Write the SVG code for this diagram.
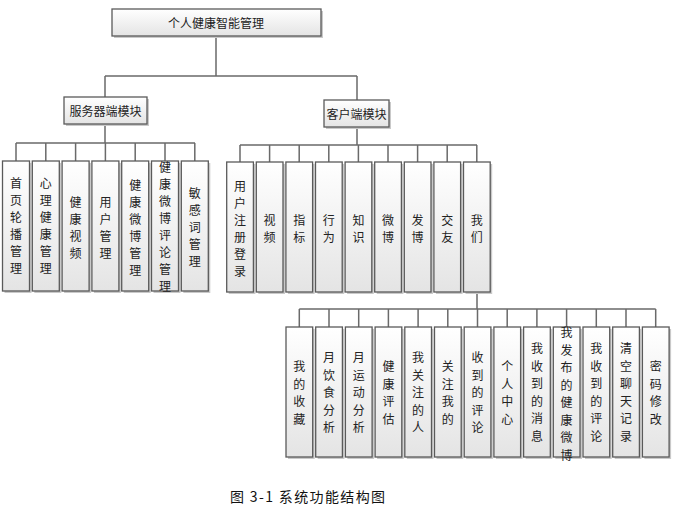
<svg xmlns="http://www.w3.org/2000/svg" width="677" height="513" viewBox="0 0 677 513">
<style>
.box{fill:url(#g);stroke:#5a5a5a;stroke-width:1.3}
.sh{fill:#c9c9c9}
.ln{fill:none;stroke:#6a6a6a;stroke-width:1.5}
.t{font-family:"Noto Sans CJK SC","Noto Sans CJK TC",sans-serif;font-size:12px;fill:#222;text-anchor:middle;dominant-baseline:central}
.cap{font-family:"Noto Sans CJK SC",sans-serif;font-size:14px;fill:#111}
</style>
<defs>
<linearGradient id="g" x1="0" y1="0" x2="0" y2="1">
<stop offset="0" stop-color="#ffffff"/>
<stop offset="1" stop-color="#e4e4e4"/>
</linearGradient>
</defs>
<rect width="677" height="513" fill="#fff"/>

<g id="connectors">
<path class="ln" d="M216 36V76M105 76H357M105 76V97M357 76V100"/>
<path class="ln" d="M105 124V143M16 143H195M16 143V161M45.8 143V161M75.6 143V161M105.4 143V161M135.2 143V161M165 143V161M194.8 143V161"/>
<path class="ln" d="M357 127V145M240 145H477M240 145V162M269.6 145V162M299.2 145V162M328.8 145V162M358.4 145V162M388 145V162M417.6 145V162M447.2 145V162M476.8 145V162"/>
<path class="ln" d="M477 292V309M299.3 309H655.7M299.3 309V327M329 309V327M358.7 309V327M388.4 309V327M418.1 309V327M447.8 309V327M477.5 309V327M507.2 309V327M536.9 309V327M566.6 309V327M596.3 309V327M626 309V327M655.7 309V327"/>
</g>

<g id="root"><rect class="sh" x="114" y="11" width="209" height="27"/><rect class="box" x="112" y="9" width="209" height="27"/><text class="t" x="216" y="22.5">个人健康智能管理</text></g>
<g id="server"><rect class="sh" x="66" y="99" width="83" height="27"/><rect class="box" x="64" y="97" width="83" height="27"/><text class="t" x="105.5" y="110.5">服务器端模块</text></g>
<g id="client"><rect class="sh" x="326" y="102" width="65" height="27"/><rect class="box" x="324" y="100" width="65" height="27"/><text class="t" x="356.5" y="113.5">客户端模块</text></g>

<!-- server children -->
<g id="s1"><rect class="sh" x="4.5" y="163" width="27" height="130"/><rect class="box" x="2.5" y="161" width="27" height="130"/><text class="t" x="16" y="182"><tspan x="16">首</tspan><tspan x="16" dy="17">页</tspan><tspan x="16" dy="17">轮</tspan><tspan x="16" dy="17">播</tspan><tspan x="16" dy="17">管</tspan><tspan x="16" dy="17">理</tspan></text></g>
<g id="s2"><rect class="sh" x="34.3" y="163" width="27" height="130"/><rect class="box" x="32.3" y="161" width="27" height="130"/><text class="t" x="45.8" y="182"><tspan x="45.8">心</tspan><tspan x="45.8" dy="17">理</tspan><tspan x="45.8" dy="17">健</tspan><tspan x="45.8" dy="17">康</tspan><tspan x="45.8" dy="17">管</tspan><tspan x="45.8" dy="17">理</tspan></text></g>
<g id="s3"><rect class="sh" x="64.1" y="163" width="27" height="130"/><rect class="box" x="62.1" y="161" width="27" height="130"/><text class="t" x="75.6" y="200.5"><tspan x="75.6">健</tspan><tspan x="75.6" dy="17">康</tspan><tspan x="75.6" dy="17">视</tspan><tspan x="75.6" dy="17">频</tspan></text></g>
<g id="s4"><rect class="sh" x="93.9" y="163" width="27" height="130"/><rect class="box" x="91.9" y="161" width="27" height="130"/><text class="t" x="105.4" y="200.5"><tspan x="105.4">用</tspan><tspan x="105.4" dy="17">户</tspan><tspan x="105.4" dy="17">管</tspan><tspan x="105.4" dy="17">理</tspan></text></g>
<g id="s5"><rect class="sh" x="123.7" y="163" width="27" height="130"/><rect class="box" x="121.7" y="161" width="27" height="130"/><text class="t" x="135.2" y="183.5"><tspan x="135.2">健</tspan><tspan x="135.2" dy="17">康</tspan><tspan x="135.2" dy="17">微</tspan><tspan x="135.2" dy="17">博</tspan><tspan x="135.2" dy="17">管</tspan><tspan x="135.2" dy="17">理</tspan></text></g>
<g id="s6"><rect class="sh" x="153.5" y="163" width="27" height="130"/><rect class="box" x="151.5" y="161" width="27" height="130"/><text class="t" x="165" y="166"><tspan x="165">健</tspan><tspan x="165" dy="17">康</tspan><tspan x="165" dy="17">微</tspan><tspan x="165" dy="17">博</tspan><tspan x="165" dy="17">评</tspan><tspan x="165" dy="17">论</tspan><tspan x="165" dy="17">管</tspan><tspan x="165" dy="17">理</tspan></text></g>
<g id="s7"><rect class="sh" x="183.3" y="163" width="27" height="130"/><rect class="box" x="181.3" y="161" width="27" height="130"/><text class="t" x="194.8" y="192"><tspan x="194.8">敏</tspan><tspan x="194.8" dy="17">感</tspan><tspan x="194.8" dy="17">词</tspan><tspan x="194.8" dy="17">管</tspan><tspan x="194.8" dy="17">理</tspan></text></g>

<!-- client children -->
<g id="c1"><rect class="sh" x="228.7" y="164" width="26.7" height="130"/><rect class="box" x="226.7" y="162" width="26.7" height="130"/><text class="t" x="240" y="184.5"><tspan x="240">用</tspan><tspan x="240" dy="17">户</tspan><tspan x="240" dy="17">注</tspan><tspan x="240" dy="17">册</tspan><tspan x="240" dy="17">登</tspan><tspan x="240" dy="17">录</tspan></text></g>
<g id="c2"><rect class="sh" x="258.3" y="164" width="26.7" height="130"/><rect class="box" x="256.3" y="162" width="26.7" height="130"/><text class="t" x="269.6" y="218.5"><tspan x="269.6">视</tspan><tspan x="269.6" dy="17">频</tspan></text></g>
<g id="c3"><rect class="sh" x="287.9" y="164" width="26.7" height="130"/><rect class="box" x="285.9" y="162" width="26.7" height="130"/><text class="t" x="299.2" y="218.5"><tspan x="299.2">指</tspan><tspan x="299.2" dy="17">标</tspan></text></g>
<g id="c4"><rect class="sh" x="317.5" y="164" width="26.7" height="130"/><rect class="box" x="315.5" y="162" width="26.7" height="130"/><text class="t" x="328.8" y="218.5"><tspan x="328.8">行</tspan><tspan x="328.8" dy="17">为</tspan></text></g>
<g id="c5"><rect class="sh" x="347.1" y="164" width="26.7" height="130"/><rect class="box" x="345.1" y="162" width="26.7" height="130"/><text class="t" x="358.4" y="218.5"><tspan x="358.4">知</tspan><tspan x="358.4" dy="17">识</tspan></text></g>
<g id="c6"><rect class="sh" x="376.7" y="164" width="26.7" height="130"/><rect class="box" x="374.7" y="162" width="26.7" height="130"/><text class="t" x="388" y="218.5"><tspan x="388">微</tspan><tspan x="388" dy="17">博</tspan></text></g>
<g id="c7"><rect class="sh" x="406.3" y="164" width="26.7" height="130"/><rect class="box" x="404.3" y="162" width="26.7" height="130"/><text class="t" x="417.6" y="218.5"><tspan x="417.6">发</tspan><tspan x="417.6" dy="17">博</tspan></text></g>
<g id="c8"><rect class="sh" x="435.9" y="164" width="26.7" height="130"/><rect class="box" x="433.9" y="162" width="26.7" height="130"/><text class="t" x="447.2" y="218.5"><tspan x="447.2">交</tspan><tspan x="447.2" dy="17">友</tspan></text></g>
<g id="c9"><rect class="sh" x="465.5" y="164" width="26.7" height="130"/><rect class="box" x="463.5" y="162" width="26.7" height="130"/><text class="t" x="476.8" y="218.5"><tspan x="476.8">我</tspan><tspan x="476.8" dy="17">们</tspan></text></g>

<!-- 我们 children -->
<g id="w1"><rect class="sh" x="288" y="329" width="26.7" height="130"/><rect class="box" x="286" y="327" width="26.7" height="130"/><text class="t" x="299.3" y="365"><tspan x="299.3">我</tspan><tspan x="299.3" dy="17.5">的</tspan><tspan x="299.3" dy="17.5">收</tspan><tspan x="299.3" dy="17.5">藏</tspan></text></g>
<g id="w2"><rect class="sh" x="317.7" y="329" width="26.7" height="130"/><rect class="box" x="315.7" y="327" width="26.7" height="130"/><text class="t" x="329" y="356"><tspan x="329">月</tspan><tspan x="329" dy="17.5">饮</tspan><tspan x="329" dy="17.5">食</tspan><tspan x="329" dy="17.5">分</tspan><tspan x="329" dy="17.5">析</tspan></text></g>
<g id="w3"><rect class="sh" x="347.4" y="329" width="26.7" height="130"/><rect class="box" x="345.4" y="327" width="26.7" height="130"/><text class="t" x="358.7" y="356"><tspan x="358.7">月</tspan><tspan x="358.7" dy="17.5">运</tspan><tspan x="358.7" dy="17.5">动</tspan><tspan x="358.7" dy="17.5">分</tspan><tspan x="358.7" dy="17.5">析</tspan></text></g>
<g id="w4"><rect class="sh" x="377.1" y="329" width="26.7" height="130"/><rect class="box" x="375.1" y="327" width="26.7" height="130"/><text class="t" x="388.4" y="365"><tspan x="388.4">健</tspan><tspan x="388.4" dy="17.5">康</tspan><tspan x="388.4" dy="17.5">评</tspan><tspan x="388.4" dy="17.5">估</tspan></text></g>
<g id="w5"><rect class="sh" x="406.8" y="329" width="26.7" height="130"/><rect class="box" x="404.8" y="327" width="26.7" height="130"/><text class="t" x="418.1" y="356"><tspan x="418.1">我</tspan><tspan x="418.1" dy="17.5">关</tspan><tspan x="418.1" dy="17.5">注</tspan><tspan x="418.1" dy="17.5">的</tspan><tspan x="418.1" dy="17.5">人</tspan></text></g>
<g id="w6"><rect class="sh" x="436.5" y="329" width="26.7" height="130"/><rect class="box" x="434.5" y="327" width="26.7" height="130"/><text class="t" x="447.8" y="365"><tspan x="447.8">关</tspan><tspan x="447.8" dy="17.5">注</tspan><tspan x="447.8" dy="17.5">我</tspan><tspan x="447.8" dy="17.5">的</tspan></text></g>
<g id="w7"><rect class="sh" x="466.2" y="329" width="26.7" height="130"/><rect class="box" x="464.2" y="327" width="26.7" height="130"/><text class="t" x="477.5" y="356"><tspan x="477.5">收</tspan><tspan x="477.5" dy="17.5">到</tspan><tspan x="477.5" dy="17.5">的</tspan><tspan x="477.5" dy="17.5">评</tspan><tspan x="477.5" dy="17.5">论</tspan></text></g>
<g id="w8"><rect class="sh" x="495.9" y="329" width="26.7" height="130"/><rect class="box" x="493.9" y="327" width="26.7" height="130"/><text class="t" x="507.2" y="365"><tspan x="507.2">个</tspan><tspan x="507.2" dy="17.5">人</tspan><tspan x="507.2" dy="17.5">中</tspan><tspan x="507.2" dy="17.5">心</tspan></text></g>
<g id="w9"><rect class="sh" x="525.6" y="329" width="26.7" height="130"/><rect class="box" x="523.6" y="327" width="26.7" height="130"/><text class="t" x="536.9" y="347"><tspan x="536.9">我</tspan><tspan x="536.9" dy="17.5">收</tspan><tspan x="536.9" dy="17.5">到</tspan><tspan x="536.9" dy="17.5">的</tspan><tspan x="536.9" dy="17.5">消</tspan><tspan x="536.9" dy="17.5">息</tspan></text></g>
<g id="w10"><rect class="sh" x="555.3" y="329" width="26.7" height="130"/><rect class="box" x="553.3" y="327" width="26.7" height="130"/><text class="t" x="566.6" y="331"><tspan x="566.6">我</tspan><tspan x="566.6" dy="17.5">发</tspan><tspan x="566.6" dy="17.5">布</tspan><tspan x="566.6" dy="17.5">的</tspan><tspan x="566.6" dy="17.5">健</tspan><tspan x="566.6" dy="17.5">康</tspan><tspan x="566.6" dy="17.5">微</tspan><tspan x="566.6" dy="17.5">博</tspan></text></g>
<g id="w11"><rect class="sh" x="585" y="329" width="26.7" height="130"/><rect class="box" x="583" y="327" width="26.7" height="130"/><text class="t" x="596.3" y="347"><tspan x="596.3">我</tspan><tspan x="596.3" dy="17.5">收</tspan><tspan x="596.3" dy="17.5">到</tspan><tspan x="596.3" dy="17.5">的</tspan><tspan x="596.3" dy="17.5">评</tspan><tspan x="596.3" dy="17.5">论</tspan></text></g>
<g id="w12"><rect class="sh" x="614.7" y="329" width="26.7" height="130"/><rect class="box" x="612.7" y="327" width="26.7" height="130"/><text class="t" x="626" y="347"><tspan x="626">清</tspan><tspan x="626" dy="17.5">空</tspan><tspan x="626" dy="17.5">聊</tspan><tspan x="626" dy="17.5">天</tspan><tspan x="626" dy="17.5">记</tspan><tspan x="626" dy="17.5">录</tspan></text></g>
<g id="w13"><rect class="sh" x="644.4" y="329" width="26.7" height="130"/><rect class="box" x="642.4" y="327" width="26.7" height="130"/><text class="t" x="655.7" y="365"><tspan x="655.7">密</tspan><tspan x="655.7" dy="17.5">码</tspan><tspan x="655.7" dy="17.5">修</tspan><tspan x="655.7" dy="17.5">改</tspan></text></g>

<text class="cap" x="230" y="502" textLength="155" lengthAdjust="spacing">图 3-1 系统功能结构图</text>
</svg>
